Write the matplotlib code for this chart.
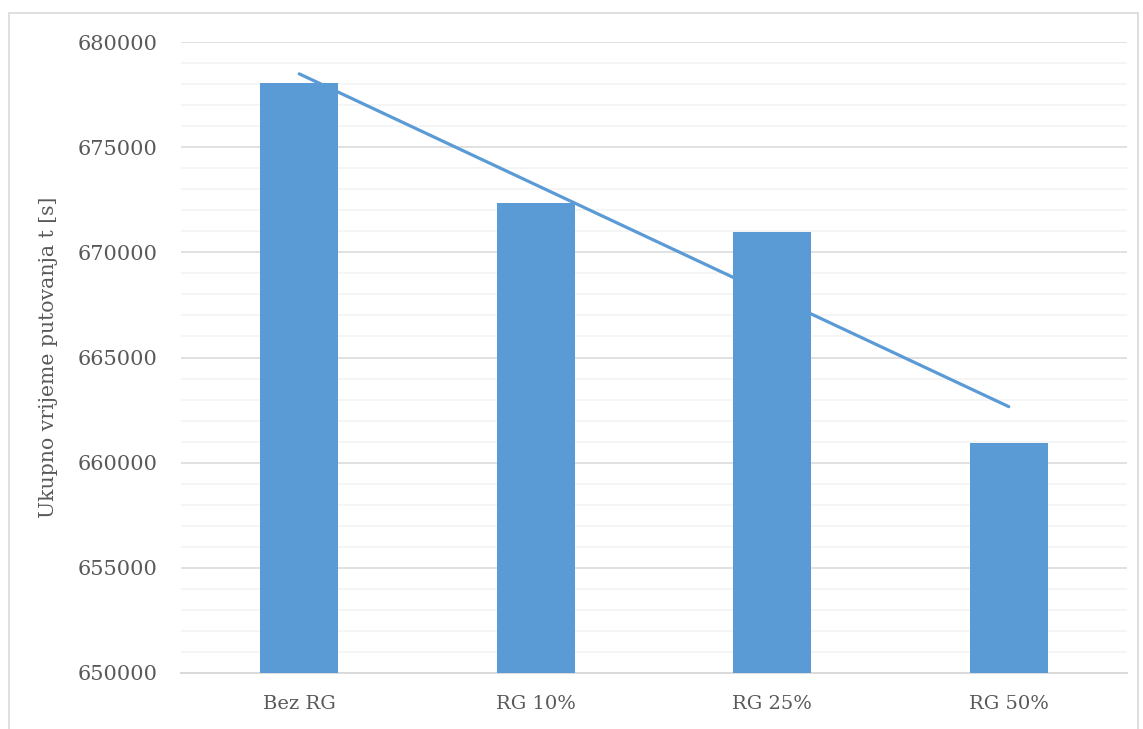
import numpy as np
import matplotlib
matplotlib.use('Agg')
import matplotlib.pyplot as plt
from matplotlib.patches import Rectangle

# data
categories = ['Bez RG', 'RG 10%', 'RG 25%', 'RG 50%']
values = [678050, 672350, 670970, 660930]
y_ticks = [650000, 655000, 660000, 665000, 670000, 675000, 680000]

W, H = 1143, 729
fig = plt.figure(figsize=(W / 100, H / 100), dpi=100)
fig.patch.set_facecolor('white')

# outer frame of the chart
fig.patches.append(Rectangle((9 / W, -0.01), 1129 / W, 1 - 13 / H + 0.01,
                             transform=fig.transFigure, fill=False,
                             edgecolor='#D9D9D9', lw=1.2))

ax = fig.add_axes([181 / W, 1 - 673 / H, 946 / W, 631 / H])

blue = '#5B9BD5'
grey_txt = '#595959'
font = 'DejaVu Serif'

x = np.arange(len(categories))
ax.bar(x, values, width=0.33, color=blue, zorder=3)

# linear trend line
k, b = np.polyfit(x, values, 1)
ax.plot(x, k * x + b, color=blue, lw=2.3, solid_capstyle='round', zorder=4)

ax.set_xlim(-0.5, len(categories) - 0.5)
ax.set_ylim(650000, 680000)
ax.set_yticks(y_ticks)
ax.set_yticks(np.arange(650000, 680001, 1000), minor=True)
ax.grid(axis='y', which='major', color='#D9D9D9', lw=1.1, zorder=0)
ax.grid(axis='y', which='minor', color='#F2F2F2', lw=1.1, zorder=0)

for s in ['top', 'right', 'left']:
    ax.spines[s].set_visible(False)
ax.spines['bottom'].set_color('#D9D9D9')
ax.spines['bottom'].set_linewidth(1.3)

ax.set_xticks(x)
ax.set_xticklabels(categories)
ax.tick_params(axis='both', which='both', length=0, colors=grey_txt)
ax.tick_params(axis='y', pad=17, labelsize=15)
ax.tick_params(axis='x', pad=16, labelsize=14)
for lab in ax.get_xticklabels() + ax.get_yticklabels():
    lab.set_fontfamily(font)
    lab.set_color(grey_txt)

ax.set_ylabel('Ukupno vrijeme putovanja t [s]', fontsize=14.7, color=grey_txt,
              fontfamily=font, labelpad=14)

fig.savefig('out.png', dpi=100, facecolor='white')
